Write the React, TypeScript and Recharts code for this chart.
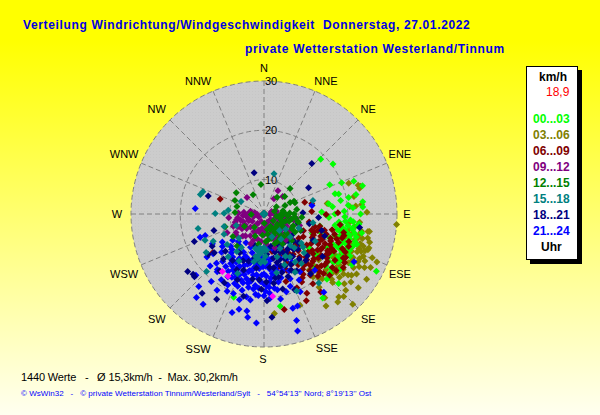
import { RadarChart, Radar, PolarGrid, PolarAngleAxis, PolarRadiusAxis } from "recharts";

type Punkt = [number, number]; // [Richtung in Grad, km/h]

const RICHTUNGEN = ["N", "NNE", "NE", "ENE", "E", "ESE", "SE", "SSE", "S", "SSW", "SW", "WSW", "W", "WNW", "NW", "NNW"];
const WINKEL = [0, 22.5, 45, 67.5, 90, 112.5, 135, 157.5, 180, 202.5, 225, 247.5, 270, 292.5, 315, 337.5];
const KMH_TICKS = [10, 20, 30];
// Beschriftung sitzt im Original nicht exakt auf dem Strahl
const VERSATZ_X = [0, 6, 1, 1, -3, 1, 1, 7, -1, -10, -4, -5, -1, -5, -4, -10];
const VERSATZ_Y = [0, 2, -2, -4, 0, 4, 2, -1, -1, 0, 2, 4, 0, -4, -2, 2];

const h00_03: Punkt[] = [
  [46, 19], [54, 20.3], [68, 20], [74, 18], [75, 18.7], [80, 18.8], [79, 20.5], [84, 17], [81, 16.3], [74, 23.8],
  [83, 23.2], [86, 23.1], [88, 14.7], [91, 15.6], [117, 28.6], [133, 23.7], [136, 21.4], [145, 23.8], [170, 22],
  [141, 17.9], [133, 14.4], [200, 21], [92, 19.4], [94, 20.6], [95, 21.2], [96, 18.3], [97, 22.1], [98, 20.2],
  [99, 17.6], [100, 19.1], [100, 21.3], [101, 23.2], [102, 18.2], [103, 20.4], [104, 22.3], [105, 19.2],
  [106, 21.1], [107, 18.1], [108, 22.8], [109, 20.3], [110, 17.2], [110, 22.2], [111, 19.3], [112, 21.4],
  [114, 18.4], [115, 20.1], [116, 22.4], [118, 17.3], [119, 19.1], [120, 23.6], [121, 21.2], [124, 18.3],
  [125, 20.2], [126, 22.1], [128, 16.3], [130, 19.4], [132, 21], [134, 15.2], [136, 18.1], [88, 19.3], [90, 17.4],
  [86, 21.1], [84, 20.2], [93, 16.2], [102, 14.6], [108, 15.1],
  [95, 19.6], [96, 22.4], [98, 18.8], [99, 21.2], [101, 19.7], [102, 21.8], [103, 18.9], [104, 20.9],
  [106, 19.4], [107, 22.3], [108, 19.9], [110, 20.6], [112, 19.6], [113, 21.9], [114, 19.2], [116, 20.7],
  [117, 18.6], [118, 21.3], [120, 20.4], [122, 18.8], [123, 20.9], [126, 19.2], [129, 20.6], [127, 14.6], [118, 14.2],
  [112, 13.6], [130, 13.4], [70, 22.4], [78, 22.1], [66, 17.6], [90, 22.6],
];

const h03_06: Punkt[] = [
  [70, 21.3], [73, 23], [74, 23.4], [75, 23.1], [80.5, 16], [79, 21.6], [85, 21.7], [84.5, 22.9], [89, 23.9],
  [94.5, 30], [85, 20.5], [99.5, 24.4], [108, 25.4], [112, 26.7], [113, 27.9], [116.6, 27.2], [122.5, 27.7],
  [128, 27.3], [135.5, 28.7], [136, 26.3], [138, 25.7], [140, 26.3], [146, 25.5], [144, 24], [158.5, 22.9], [174, 23.3],
  [128, 25.4], [125, 24.7], [130, 23], [135, 22.7], [139.5, 20.2], [109, 25.3], [110, 23.5], [95, 22.5], [99.4, 24.7],
  [103, 24.6], [96, 20.3], [98, 21.6], [100, 23.1], [101, 19.2], [103, 21.2], [104, 22.7], [106, 20.1], [107, 23.4],
  [108, 18.6], [109, 21.5], [111, 24.1], [111, 19.7], [113, 22.3], [114, 20.6], [115, 24.4], [116, 18.2], [117, 21.7],
  [118, 23.2], [120, 19.6], [121, 22.1], [123, 20.4], [124, 18.3], [125, 22.6], [126, 16.9], [127, 21.2], [129, 19.1],
  [130, 17.5], [131, 21.3], [133, 18.6], [134, 20.3], [136, 17.2], [137, 19.4], [139, 18.1], [142, 19.2], [143, 21.6],
  [104, 23.6], [106, 22.2], [108, 24.2], [112, 23.4], [114, 21.8], [116, 23.1], [119, 20.6], [120, 22.8], [122, 19.4],
  [124, 21.4], [127, 23.2], [129, 21.9], [132, 19.9], [134, 22.1], [138, 20.7], [141, 17.6], [100, 20.6], [102, 22.8],
  [110, 24.8], [113, 24.9], [117, 24.4], [119, 25.1], [121, 24.2], [123, 25.4], [126, 24.1], [115, 25.6], [118, 26.1],
  [105, 25.2], [131, 24.6], [133, 25.7],
];

const h06_09: Punkt[] = [
  [289, 12.4], [74, 11.6], [78, 12.9], [87, 12.7], [90.5, 15.6], [89, 18], [102.5, 14.6], [144, 22.6], [154, 22.6],
  [168, 22.8], [151.6, 21.3], [233, 16], [191.7, 11.9], [100, 12.3], [103, 17.2], [105, 19.8], [106, 15.1], [108, 21.1],
  [109, 13.2], [110, 17.4], [111, 19.2], [112, 15.6], [113, 11.7], [114, 20.4], [115, 17.8], [116, 13.9], [117, 15.4],
  [118, 19.1], [119, 21.4], [120, 12.2], [120, 16.7], [121, 18.4], [122, 14.3], [123, 20.2], [124, 16.1], [125, 11.6],
  [125, 18.6], [126, 13.7], [127, 15.3], [128, 20.6], [129, 17.2], [130, 12.4], [130, 19.1], [131, 14.8], [132, 16.6],
  [133, 21.2], [134, 11.9], [135, 18.2], [136, 15.2], [137, 13.2], [138, 17.1], [139, 19.7], [140, 14.3], [141, 11.4],
  [142, 16.2], [143, 18.6], [144, 13.1], [145, 20.3], [146, 15.4], [147, 17.6], [148, 12.3], [150, 14.6], [151, 18.8],
  [152, 16.3], [153, 11.2], [155, 13.8], [156, 19.4], [158, 15.3], [160, 12.1], [162, 17.4], [165, 14.2], [168, 10.8],
  [104, 13.6], [105, 15.7], [106, 17.9], [107, 14.4], [108, 16.3], [109, 18.6], [110, 13.8], [111, 15.4], [112, 17.6],
  [113, 13.9], [114, 15.9], [116, 16.8], [117, 18.4], [119, 15.6], [120, 17.9], [122, 16.6], [123, 18.1],
  [126, 17.4], [127, 19.1], [129, 15.8], [132, 18.7], [133, 14.9], [134, 16.8], [136, 19.2], [137, 15.7],
  [139, 16.2], [141, 17.8], [143, 15.1], [145, 16.7], [149, 18.1], [135, 20.1], [128, 21.6], [115, 21.2], [107, 19.6],
  [118, 21.8], [111, 21.4], [103, 19.6], [98, 18.6], [124, 22.4], [121, 22.1],
];

const h21_24: Punkt[] = [
  [274.5, 17], [250, 16.8], [250, 15.7], [228, 21.6], [222, 22.8], [219, 24.8], [214, 25.1], [218, 20.4], [198, 24],
  [194.7, 23], [190, 23], [189, 24.2], [184, 25.2], [211.6, 21.2], [205.5, 20.4], [163, 25.6], [164, 27.7], [118, 23.7],
  [142.6, 23], [80, 12.9], [138, 18.4], [163, 23], [160, 22.9], [233, 17.5], [226, 18.2], [220, 17.7], [232, 13.7],
  [222, 12.7], [158, 17.2], [160, 12.6], [162, 15.1], [164, 19.4], [165, 10.6], [166, 13.8], [168, 17.1], [169, 20.6],
  [170, 12.2], [171, 15.3], [172, 18.2], [173, 10.1], [174, 14.3], [175, 16.8], [176, 20.2], [177, 11.7], [178, 13.6],
  [179, 18.7], [180, 15.2], [181, 10.4], [182, 12.8], [183, 16.7], [184, 19.6], [185, 14.1], [186, 11.3], [187, 17.6],
  [188, 13.2], [189, 20.7], [190, 15.6], [191, 9.8], [192, 18.2], [193, 12.3], [194, 14.8], [195, 16.6], [196, 19.1],
  [197, 11.2], [198, 13.7], [199, 17.2], [200, 15.3], [201, 20.3], [202, 10.3], [203, 18.3], [204, 12.6], [205, 14.7],
  [206, 16.4], [207, 19.2], [208, 11.8], [209, 13.3], [210, 17.7], [211, 15.4], [212, 9.9], [213, 18.9], [214, 12.2],
  [215, 14.4], [216, 16.2], [218, 11.1], [219, 18.1], [220, 13.3], [221, 15.8], [223, 10.6], [224, 16.9], [226, 12.4],
  [228, 14.6], [230, 11.3], [232, 16.1], [236, 13.2], [240, 15.1], [150, 14.3], [145, 11.6], [152, 18.2], [155, 20.4],
  [172, 12.4], [174, 16.1], [175, 13.2], [176, 17.9], [178, 15.6], [179, 12.3], [180, 17.2], [181, 13.7], [182, 15.4],
  [183, 11.9], [184, 18.1], [185, 16.2], [186, 13.8], [187, 15.4], [188, 18.4], [189, 11.7], [190, 13.9], [191, 16.9],
  [192, 14.7], [193, 17.4], [194, 12.8], [195, 15.1], [196, 13.4], [197, 17.6], [198, 15.9], [199, 12.7], [200, 18.6],
  [201, 14.2], [202, 16.3], [203, 12.4], [204, 17.2], [205, 13.1], [206, 15.2], [207, 17.4], [208, 13.6], [209, 16],
  [210, 14.3], [212, 16.7], [214, 15.1], [216, 13.8], [176, 19.1], [180, 19.6], [186, 19.4], [192, 20.2], [196, 21.1],
  [168, 14.6], [170, 18.6], [165, 16.4], [172, 15.2], [178, 17.6], [160, 18.6], [156, 15.6], [152, 13.2], [148, 16.8],
];

const h18_21: Punkt[] = [
  [346.5, 11.6], [43.5, 17.1], [59.5, 13.5], [288, 14.9], [88, 10.9], [93.6, 14.1], [233, 22.4], [229.6, 21.9], [228, 22],
  [218, 23.4], [209, 22.8], [248.5, 18.2], [251.7, 13.7], [175.6, 24], [98, 22.6], [106, 15.2], [234, 17], [238, 15.4],
  [232, 15.8], [226, 13.9], [222, 15.3], [218, 17.6], [214, 14.4], [210, 19.1], [206, 15.6], [202, 17.4], [198, 13.1],
  [194, 20.2], [190, 16.4], [186, 12.7], [182, 18.3], [178, 20.6], [174, 13.9], [170, 16.2], [166, 18.7], [162, 14.1],
  [158, 19.6], [154, 11.7], [150, 16.3], [146, 13.4], [142, 18.4], [138, 10.6], [134, 15.2], [130, 12.1], [126, 17.7],
  [122, 9.8], [118, 14.3], [114, 11.2], [110, 16.1], [106, 10.2], [102, 12.4], [176, 11.2], [196, 9.6], [212, 12.3],
  [168, 9.7], [148, 8.9],
  [144, 10.1], [146, 11.6], [148, 13.2], [150, 9.8], [151, 12.1], [152, 14.6], [153, 10.6], [154, 15.7], [155, 13.1],
  [156, 9.6], [157, 11.4], [158, 14.4], [159, 16.6], [160, 10.4], [161, 12.8], [163, 15.4], [164, 11.1], [165, 13.2],
  [167, 16.1], [168, 12.2], [170, 14.1], [172, 17.2], [140, 12.4], [142, 14.6], [136, 12.9], [138, 15.7], [132, 11.1],
  [128, 10.1], [188, 14.1], [192, 12.2], [200, 15.1], [204, 13.4], [184, 16.4], [178, 16.8],
];

const h09_12: Punkt[] = [
  [31, 8.5], [314, 7.8], [33, 6.7], [47, 8.2], [243, 11.4], [236.5, 9.8], [250, 7.5], [276, 5.9], [270, 6.2], [262, 6.6],
  [255, 7.9], [278, 4.9], [90, 5.1], [85, 4.6], [96, 6.2], [104, 7.3], [112, 5.4], [118, 8.1], [124, 9.3], [128, 6.6],
  [134, 7.8], [140, 9.9], [146, 5.7], [150, 8.4], [156, 6.7], [162, 10.2], [166, 7.4], [172, 5.2], [176, 9.1], [180, 7.2],
  [184, 10.4], [188, 5.9], [194, 8.3], [198, 6.4], [204, 9.6], [210, 7.1], [214, 5.3], [220, 8.8], [226, 6.8], [232, 10.1],
  [238, 5.8], [242, 8.4], [248, 9.7], [252, 6.3], [258, 8.7], [264, 10.2], [98, 9.6], [108, 10.6], [115, 6.8], [132, 10.4],
  [160, 4.8], [200, 4.6], [240, 4.2], [130, 4.7], [100, 8.4],
  [268, 4.4], [266, 7.3], [272, 8.2], [275, 7.1], [258, 5.1], [262, 8.4], [254, 9.1], [246, 6.4], [244, 8.9], [240, 7.4],
  [236, 8.4], [230, 7.6], [224, 9.2], [218, 6.2], [212, 8.2], [206, 7.2], [202, 8.7], [192, 6.9], [186, 8.6], [178, 6.4],
  [170, 8.2], [164, 5.9], [158, 8.7], [152, 6.2], [144, 7.4], [138, 8.6], [136, 5.4], [126, 7.8], [120, 6.4], [116, 9.2],
  [110, 7.7], [106, 5.8], [102, 9.2], [94, 7.6], [92, 4.2], [88, 6.8], [84, 5.4], [78, 5.6], [72, 4.6], [282, 5.8],
];

const h12_15: Punkt[] = [
  [354, 9], [45.6, 10.4], [307.5, 10.1], [330.6, 7.5], [295, 9.5], [285.5, 8.7], [273, 8.9], [268, 5.6], [68, 7.6], [67, 9.6],
  [66, 8.8], [38, 7.3], [82, 9.7], [80, 6.9], [70, 9.7], [50, 8.5], [252, 11.3], [234, 10.8], [220, 11.5], [96, 9.3], [102, 10],
  [88, 8.2], [92, 6.4], [95, 10.7], [100, 5.6], [106, 8.3], [110, 6.8], [114, 11.1], [118, 9.4], [122, 7.2], [126, 5.3],
  [130, 8.9], [134, 10.8], [138, 6.6], [142, 8.1], [148, 10.1], [152, 5.8], [156, 7.7], [160, 9.4], [168, 6.2], [172, 8.4],
  [178, 4.9], [184, 7.3], [190, 9.2], [202, 7.8], [216, 6.3], [238, 7.7], [75, 5.2], [60, 5.9],
  [86, 7.1], [90, 9.1], [94, 7.8], [98, 6.6], [100, 8.7], [104, 6.3], [104, 10.2], [108, 7.6], [112, 9.4], [116, 7.1],
  [120, 10.3], [124, 8.1], [128, 6.4], [132, 9.6], [136, 7.4], [140, 9.1], [144, 6.7], [146, 8.8], [150, 7.3], [154, 9.2],
  [158, 6.4], [164, 8.2], [170, 7.2], [176, 8.6],
];

const h15_18: Punkt[] = [
  [14, 11.4], [290, 16.2], [287, 16.5], [276, 10.3], [271, 11.1], [270.5, 12.9], [298.5, 8.3], [74.6, 13.3], [257.6, 16.7],
  [246, 16.1], [241.7, 14.7], [243, 12.1], [230.5, 12.7], [252.6, 11.5], [236.4, 17.1], [225, 19.5], [247.7, 9.1], [100, 13.1],
  [141.6, 20.9], [157, 20], [176, 10.4], [178, 11.6], [180, 9.8], [181, 12.4], [183, 10.8], [184, 12.9], [186, 11.2], [187, 9.9],
  [188, 12.1], [190, 10.6], [191, 11.8], [192, 12.9], [194, 10.2], [179, 12.8], [185, 10.1],
  [125, 8.4], [128, 12.6], [131, 10.1], [134, 14.3], [137, 7.6], [140, 11.3], [143, 15.6], [146, 9.2], [149, 13.2], [152, 16.4],
  [155, 10.7], [158, 14.1], [161, 7.9], [163, 12.1], [208, 13.8], [214, 11.2], [220, 14.3], [226, 10.1], [112, 10.6], [118, 14.8],
  [138, 12.2], [130, 13.4], [147, 14.6], [153, 12.6], [216, 12.4], [168, 15.2], [204, 16.2],
];

const sonstige: Punkt[] = [[216, 17.4], [210, 17.6], [174, 19.8]];

const REIHEN = [
  { key: "h03_06", punkte: h03_06, farbe: "#808000" },
  { key: "h00_03", punkte: h00_03, farbe: "#00FF00" },
  { key: "h06_09", punkte: h06_09, farbe: "#800000" },
  { key: "h21_24", punkte: h21_24, farbe: "#0000FF" },
  { key: "h18_21", punkte: h18_21, farbe: "#000080" },
  { key: "sonstige", punkte: sonstige, farbe: "#FF00FF" },
  { key: "h09_12", punkte: h09_12, farbe: "#800080" },
  { key: "h12_15", punkte: h12_15, farbe: "#008000" },
  { key: "h15_18", punkte: h15_18, farbe: "#008080" },
];

const LEGENDE = [
  { text: "00...03", farbe: "#00FF00" },
  { text: "03...06", farbe: "#808000" },
  { text: "06...09", farbe: "#800000" },
  { text: "09...12", farbe: "#800080" },
  { text: "12...15", farbe: "#008000" },
  { text: "15...18", farbe: "#008080" },
  { text: "18...21", farbe: "#000080" },
  { text: "21...24", farbe: "#0000FF" },
];

const zeilen = REIHEN.flatMap((r) => r.punkte.map(([dir, kmh]) => ({ dir, [r.key]: kmh })));

const SCHRIFT = '"Liberation Sans", Arial, sans-serif';

function Raute({ farbe, ...p }: any) {
  if (!Number.isFinite(p.cx) || !Number.isFinite(p.cy)) return <g key={p.key} />;
  return (
    <path
      key={p.key}
      d={`M${p.cx} ${p.cy - 3.5}L${p.cx + 3.5} ${p.cy}L${p.cx} ${p.cy + 3.5}L${p.cx - 3.5} ${p.cy}Z`}
      fill={farbe}
    />
  );
}

function RichtungTick({ x, y, payload }: any) {
  const i = WINKEL.indexOf(payload.value);
  return (
    <text
      x={x + VERSATZ_X[i]}
      y={y + VERSATZ_Y[i]}
      textAnchor="middle"
      dominantBaseline="central"
      fontSize={11}
      fontFamily={SCHRIFT}
      fill="#000"
    >
      {RICHTUNGEN[i]}
    </text>
  );
}

function KmhTick({ x, y, payload }: any) {
  return (
    <text x={x + 1} y={y} textAnchor="start" dominantBaseline="central" fontSize={11} fontFamily={SCHRIFT} fill="#000">
      {payload.value}
    </text>
  );
}

function Zeile({ x, y, children, style }: any) {
  return (
    <div
      style={{
        position: "absolute",
        left: x,
        top: y,
        whiteSpace: "pre",
        fontFamily: SCHRIFT,
        fontSize: 12,
        lineHeight: "14px",
        ...style,
      }}
    >
      {children}
    </div>
  );
}

export default function App() {
  return (
    <div
      style={{
        position: "absolute",
        left: 0,
        top: 0,
        width: 600,
        height: 415,
        overflow: "hidden",
        background: "linear-gradient(#FFFF00 0, #FFFF00 40px, #FFFFF0 415px)",
      }}
    >
      <Zeile x={23} y={18} style={{ fontWeight: 700, color: "#0000E0", letterSpacing: 0.64 }}>
        Verteilung Windrichtung/Windgeschwindigkeit  Donnerstag, 27.01.2022
      </Zeile>
      <Zeile x={245} y={42} style={{ fontWeight: 700, color: "#0000E0", letterSpacing: 0.68 }}>
        private Wetterstation Westerland/Tinnum
      </Zeile>

      <div
        style={{
          position: "absolute",
          left: 131,
          top: 81,
          width: 266,
          height: 266,
          borderRadius: "50%",
          backgroundColor: "#CCCCCC",
          backgroundImage: "radial-gradient(#C6C6C6 0.6px, transparent 0.8px)",
          backgroundSize: "3px 3px",
        }}
      />
      <div style={{ position: "absolute", left: 0, top: 0 }}>
        <RadarChart
          width={600}
          height={415}
          cx={264}
          cy={214}
          outerRadius={133}
          data={zeilen}
          margin={{ top: 0, right: 0, bottom: 0, left: 0 }}
        >
          <PolarGrid gridType="circle" stroke="#808080" strokeWidth={1} strokeDasharray="5 3" />
          <PolarAngleAxis
            dataKey="dir"
            type="number"
            domain={[0, 360]}
            ticks={WINKEL as any}
            axisLine={false}
            tickLine={false}
            tickSize={13}
            tick={<RichtungTick />}
          />
          {REIHEN.map((r) => (
            <Radar
              key={r.key}
              dataKey={r.key}
              stroke="none"
              fill="none"
              isAnimationActive={false}
              dot={(p: any) => <Raute {...p} farbe={r.farbe} />}
            />
          ))}
          <PolarRadiusAxis
            angle={90}
            type="number"
            domain={[3, 30]}
            ticks={KMH_TICKS as any}
            axisLine={false}
            tickSize={4}
            tick={<KmhTick />}
            stroke="#808080"
          />
        </RadarChart>
      </div>

      <div style={{ position: "absolute", left: 530, top: 70, width: 52, height: 194, background: "#000" }} />
      <div
        style={{
          position: "absolute",
          left: 526,
          top: 66,
          width: 50,
          height: 192,
          background: "#FFF",
          border: "1px solid #000",
        }}
      />
      <Zeile x={539} y={70} style={{ fontWeight: 700, color: "#000" }}>km/h</Zeile>
      <Zeile x={546} y={85} style={{ color: "#FF0000" }}>18,9</Zeile>
      {LEGENDE.map((l, i) => (
        <Zeile key={l.text} x={533} y={112 + i * 16} style={{ fontWeight: 700, color: l.farbe }}>
          {l.text}
        </Zeile>
      ))}
      <Zeile x={541} y={240} style={{ fontWeight: 700, color: "#000" }}>Uhr</Zeile>

      <Zeile x={21} y={370} style={{ color: "#000", fontSize: 11, letterSpacing: -0.15 }}>
        1440 Werte   -   Ø 15,3km/h  -  Max. 30,2km/h
      </Zeile>
      <Zeile x={21} y={387} style={{ color: "#0000FF", fontSize: 8, letterSpacing: 0.05 }}>
        © WsWin32   -   © private Wetterstation Tinnum/Westerland/Sylt   -   54°54'13'' Nord; 8°19'13'' Ost
      </Zeile>
    </div>
  );
}
